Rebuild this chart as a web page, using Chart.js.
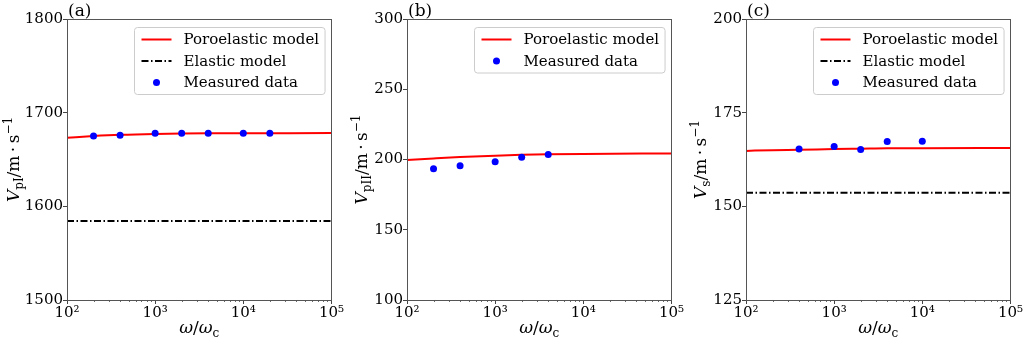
<!DOCTYPE html>
<html><head><meta charset="utf-8">
<script src="https://cdn.jsdelivr.net/npm/chart.js@4.4.1/dist/chart.umd.min.js"></script>
<style>
html,body{margin:0;padding:0;background:#fff;width:1024px;height:340px;overflow:hidden}
canvas{position:absolute;top:0}
</style></head><body>
<canvas id="ca" width="344" height="340" style="left:0px"></canvas>
<canvas id="cb" width="344" height="340" style="left:340px"></canvas>
<canvas id="cc" width="344" height="340" style="left:679px"></canvas>
<script>
// ---------- data ----------
const curveFreq = [100, 200, 400, 1000, 2000, 4000, 10000, 100000];
const poroA = [1673.3, 1675.0, 1676.3, 1677.3, 1677.7, 1677.9, 1678.0, 1678.2];
const poroB = [199.6, 200.7, 201.7, 202.7, 203.3, 203.7, 204.0, 204.3];
const poroC = [164.8, 165.0, 165.1, 165.3, 165.4, 165.5, 165.5, 165.6];
const elasticRange = [100, 100000];
const elasticA = 1584.3;
const elasticC = 153.6;
const measFreqA = [200, 400, 1000, 2000, 4000, 10000, 20000];
const measA = [1675, 1676, 1678, 1678, 1678, 1678, 1678];
const measFreqB = [200, 400, 1000, 2000, 4000];
const measB = [193.4, 195.5, 198.4, 201.6, 203.6];
const measFreqC = [400, 1000, 2000, 4000, 10000];
const measC = [165.3, 166.0, 165.2, 167.3, 167.4];
const xTickValues = [100, 1000, 10000, 100000];
const xTickLabels = ['10²', '10³', '10⁴', '10⁵'];
const yTicksA = [1500, 1600, 1700, 1800];
const yTicksB = [100, 150, 200, 250, 300];
const yTicksC = [125, 150, 175, 200];
const legendLabels = ['Poroelastic model', 'Elastic model', 'Measured data'];

const FONT = '"DejaVu Serif", "Liberation Serif", serif';
const RED = '#ff0000', BLUE = '#0000ff', BLACK = '#000000';
const DASHDOT = [7, 2.5, 1.5, 2.5];

function pts(xs, ys) { return xs.map((x, i) => ({x: x, y: ys[i]})); }
function flat(xs, v) { return xs.map(x => ({x: x, y: v})); }

function fontStr(p) { return (p.italic ? 'italic ' : '') + (p.size || 17) + 'px ' + FONT; }
function drawRich(ctx, parts, x, y) {
  let total = 0;
  parts.forEach(p => { ctx.font = fontStr(p); p.w = ctx.measureText(p.t).width; total += p.w; });
  let cx = x - total / 2;
  ctx.textAlign = 'left';
  ctx.textBaseline = 'alphabetic';
  parts.forEach(p => { ctx.font = fontStr(p); ctx.fillText(p.t, cx, y + (p.dy || 0)); cx += p.w; });
}

const decoPlugin = {
  id: 'deco',
  afterDraw(chart) {
    const o = chart.options.plugins.deco;
    const ctx = chart.ctx, a = chart.chartArea;
    const xs = chart.scales.x;
    ctx.save();
    // minor ticks on log x axis
    ctx.strokeStyle = '#444'; ctx.lineWidth = 0.8;
    for (let d = 100; d < 100000; d *= 10) {
      for (let m = 2; m <= 9; m++) {
        const px = Math.round(xs.getPixelForValue(d * m)) + 0.5;
        ctx.beginPath(); ctx.moveTo(px, a.bottom); ctx.lineTo(px, a.bottom + 2); ctx.stroke();
      }
    }
    // frame
    ctx.strokeStyle = '#555'; ctx.lineWidth = 1;
    ctx.strokeRect(Math.round(a.left) + 0.5, Math.round(a.top) + 0.5, Math.round(a.right - a.left), Math.round(a.bottom - a.top));
    ctx.fillStyle = '#000';
    // panel label
    ctx.font = '17px ' + FONT; ctx.textAlign = 'left'; ctx.textBaseline = 'alphabetic';
    ctx.fillText(o.panel, a.left + 1, a.top - 3);
    // x title
    drawRich(ctx, [{t: 'ω', italic: true}, {t: '/'}, {t: 'ω', italic: true}, {t: 'c', size: 12, dy: 4}], (a.left + a.right) / 2, 333);
    // y title
    ctx.save();
    ctx.translate(o.yTitleX, (a.top + a.bottom) / 2);
    ctx.rotate(-Math.PI / 2);
    drawRich(ctx, [{t: 'V', italic: true}, {t: o.ySub, size: 12, dy: 4}, {t: '/m\u2009·\u2009s'}, {t: '−1', size: 12, dy: -7}], 0, 0);
    ctx.restore();
    // legend
    const items = o.legend;
    ctx.font = '15px ' + FONT;
    let tw = 0; items.forEach(it => { tw = Math.max(tw, ctx.measureText(it.label).width); });
    const w = 49 + tw + 6, h = 24 + (items.length - 1) * 21.5;
    const lx = Math.round(a.right - 7 - w) + 0.5, ly = Math.round(a.top + 8) + 0.5;
    ctx.beginPath();
    if (ctx.roundRect) ctx.roundRect(lx, ly, w, h, 3); else ctx.rect(lx, ly, w, h);
    ctx.fillStyle = 'rgba(255,255,255,0.8)'; ctx.fill();
    ctx.strokeStyle = '#cccccc'; ctx.lineWidth = 1; ctx.stroke();
    items.forEach((it, i) => {
      const ry = ly + 12 + i * 21.5;
      if (it.kind === 'line' || it.kind === 'dash') {
        ctx.save();
        ctx.strokeStyle = it.color; ctx.lineWidth = 2;
        if (it.kind === 'dash') ctx.setLineDash(DASHDOT);
        ctx.beginPath(); ctx.moveTo(lx + 7, ry); ctx.lineTo(lx + 37, ry); ctx.stroke();
        ctx.restore();
      } else {
        ctx.fillStyle = it.color;
        ctx.beginPath(); ctx.arc(lx + 22, ry, 3.5, 0, Math.PI * 2); ctx.fill();
      }
      ctx.fillStyle = '#000'; ctx.textBaseline = 'middle'; ctx.textAlign = 'left';
      ctx.font = '15px ' + FONT;
      ctx.fillText(it.label, lx + 49, ry + 1);
    });
    ctx.restore();
  }
};

function makeChart(id, cfg) {
  const datasets = [
    {label: legendLabels[0], data: pts(curveFreq, cfg.poro), showLine: true, borderColor: RED, backgroundColor: RED,
     borderWidth: 2, pointRadius: 0, cubicInterpolationMode: 'monotone', order: 2}
  ];
  const legend = [{label: legendLabels[0], kind: 'line', color: RED}];
  if (cfg.elastic !== null) {
    datasets.push({label: legendLabels[1], data: flat(elasticRange, cfg.elastic), showLine: true, borderColor: BLACK,
      borderWidth: 2, borderDash: DASHDOT, pointRadius: 0, order: 3});
    legend.push({label: legendLabels[1], kind: 'dash', color: BLACK});
  }
  datasets.push({label: legendLabels[2], data: pts(cfg.measX, cfg.meas), showLine: false, backgroundColor: BLUE,
    borderColor: BLUE, borderWidth: 0, pointRadius: 3.5, order: 1});
  legend.push({label: legendLabels[2], kind: 'dot', color: BLUE});

  return new Chart(document.getElementById(id), {
    type: 'scatter',
    data: {datasets: datasets},
    options: {
      responsive: false, animation: false, devicePixelRatio: 1,
      layout: {padding: {top: 19, right: 9, left: 0, bottom: 0}},
      plugins: {legend: {display: false}, tooltip: {enabled: false},
        deco: {panel: cfg.panel, ySub: cfg.ySub, yTitleX: cfg.yTitleX, legend: legend}},
      scales: {
        x: {type: 'logarithmic', min: 100, max: 100000,
          afterBuildTicks: s => { s.ticks = xTickValues.map(v => ({value: v})); },
          afterFit: s => { s.height = 40; },
          ticks: {autoSkip: false, maxRotation: 0, padding: 0, color: '#000',
            font: {family: FONT, size: 15},
            callback: v => { const i = xTickValues.indexOf(v); return i >= 0 ? xTickLabels[i] : ''; }},
          grid: {drawOnChartArea: false, drawTicks: true, tickLength: 4, tickColor: '#444'},
          border: {display: false}},
        y: {type: 'linear', min: cfg.yTicks[0], max: cfg.yTicks[cfg.yTicks.length - 1],
          afterBuildTicks: s => { s.ticks = cfg.yTicks.map(v => ({value: v})); },
          afterFit: s => { s.width = 67; },
          ticks: {padding: 0, color: '#000', font: {family: FONT, size: 15}, callback: v => String(v)},
          grid: {drawOnChartArea: false, drawTicks: true, tickLength: 4, tickColor: '#444'},
          border: {display: false}}
      }
    },
    plugins: [decoPlugin]
  });
}

makeChart('ca', {panel: '(a)', poro: poroA, elastic: elasticA, measX: measFreqA, meas: measA, yTicks: yTicksA, ySub: 'pI', yTitleX: 18.5});
makeChart('cb', {panel: '(b)', poro: poroB, elastic: null, measX: measFreqB, meas: measB, yTicks: yTicksB, ySub: 'pII', yTitleX: 27});
makeChart('cc', {panel: '(c)', poro: poroC, elastic: elasticC, measX: measFreqC, meas: measC, yTicks: yTicksC, ySub: 's', yTitleX: 27});
</script>
</body></html>
